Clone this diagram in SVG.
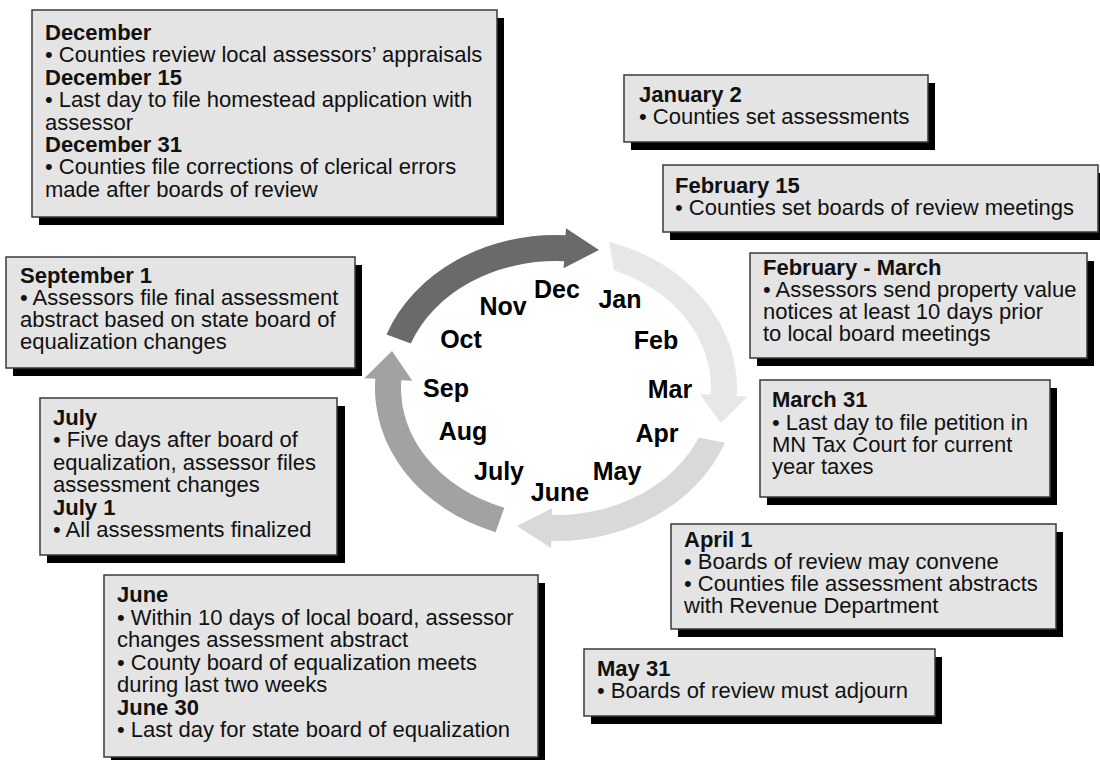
<svg xmlns="http://www.w3.org/2000/svg" width="1100" height="760" viewBox="0 0 1100 760">
<style>
.sh{fill:#000}
.bx{fill:#e4e4e4;stroke:#3a3a3a;stroke-width:1.5}
.t{font-family:"Liberation Sans",Arial,sans-serif;font-size:22px;fill:#111}
.b{font-weight:bold}
.m{font-family:"Liberation Sans",Arial,sans-serif;font-size:25px;font-weight:bold;fill:#000;text-anchor:middle}
</style>
<rect width="1100" height="760" fill="#fff"/>
<g id="cycle">
<path fill="#6a6a6a" d="M386.5,334.4 A181,153 0 0 1 565.5,235.2 L566,228.2 L599,250 L563.5,268.2 L564.1,261.2 A155,127 0 0 0 410.8,343.5 Z"/>
<path fill="#e7e7e7" d="M608.9,241.7 A181,153 0 0 1 736.7,396 L747.7,396.4 L721,423 L699.8,394.3 L710.8,394.6 A155,127 0 0 0 614.1,270.2 Z"/>
<path fill="#d9d9d9" d="M725,442.8 A181,153 0 0 1 551.3,541 L551,548 L517,526 L552.2,508 L551.9,515 A155,127 0 0 0 698.7,437.6 Z"/>
<path fill="#a2a2a2" d="M495.6,532.2 A181,153 0 0 1 375.3,378.7 L364.4,378.2 L392,351 L412.3,380.7 L401.3,380.3 A155,127 0 0 0 504.3,507.7 Z"/>
</g>
<g id="months">
<text class="m" x="557" y="298">Dec</text>
<text class="m" x="503" y="315">Nov</text>
<text class="m" x="620" y="308">Jan</text>
<text class="m" x="461" y="348">Oct</text>
<text class="m" x="656" y="349">Feb</text>
<text class="m" x="446" y="397">Sep</text>
<text class="m" x="670" y="398">Mar</text>
<text class="m" x="463" y="440">Aug</text>
<text class="m" x="657" y="442">Apr</text>
<text class="m" x="499" y="480">July</text>
<text class="m" x="617" y="480">May</text>
<text class="m" x="560" y="501">June</text>
</g>
<g id="box-december">
<rect class="sh" x="39" y="18" width="465" height="207"/>
<rect class="bx" x="32" y="10" width="465" height="207"/>
<text class="t"><tspan class="b" x="45" y="40">December</tspan><tspan x="45" y="62.4">• Counties review local assessors’ appraisals</tspan><tspan class="b" x="45" y="84.8">December 15</tspan><tspan x="45" y="107.2">• Last day to file homestead application with</tspan><tspan x="45" y="129.6">assessor</tspan><tspan class="b" x="45" y="152">December 31</tspan><tspan x="45" y="174.4">• Counties file corrections of clerical errors</tspan><tspan x="45" y="196.8">made after boards of review</tspan></text>
</g>
<g id="box-jan2">
<rect class="sh" x="631" y="83" width="304" height="67"/>
<rect class="bx" x="624" y="75" width="304" height="67"/>
<text class="t"><tspan class="b" x="639" y="102">January 2</tspan><tspan x="639" y="124">• Counties set assessments</tspan></text>
</g>
<g id="box-feb15">
<rect class="sh" x="670" y="173" width="435" height="67"/>
<rect class="bx" x="663" y="165" width="435" height="67"/>
<text class="t"><tspan class="b" x="675" y="193">February 15</tspan><tspan x="675" y="215">• Counties set boards of review meetings</tspan></text>
</g>
<g id="box-febmar">
<rect class="sh" x="757" y="261" width="337" height="105"/>
<rect class="bx" x="750" y="253" width="337" height="105"/>
<text class="t"><tspan class="b" x="763" y="275">February - March</tspan><tspan x="763" y="297">• Assessors send property value</tspan><tspan x="763" y="319">notices at least 10 days prior</tspan><tspan x="763" y="341">to local board meetings</tspan></text>
</g>
<g id="box-mar31">
<rect class="sh" x="767" y="388" width="290" height="117"/>
<rect class="bx" x="760" y="380" width="290" height="117"/>
<text class="t"><tspan class="b" x="772" y="407">March 31</tspan><tspan x="772" y="430">• Last day to file petition in</tspan><tspan x="772" y="452">MN Tax Court for current</tspan><tspan x="772" y="474">year taxes</tspan></text>
</g>
<g id="box-apr1">
<rect class="sh" x="678" y="532" width="385" height="105"/>
<rect class="bx" x="671" y="524" width="385" height="105"/>
<text class="t"><tspan class="b" x="684" y="547">April 1</tspan><tspan x="684" y="569">• Boards of review may convene</tspan><tspan x="684" y="591">• Counties file assessment abstracts</tspan><tspan x="684" y="613">with Revenue Department</tspan></text>
</g>
<g id="box-may31">
<rect class="sh" x="591" y="657" width="351" height="67"/>
<rect class="bx" x="584" y="649" width="351" height="67"/>
<text class="t"><tspan class="b" x="597" y="676">May 31</tspan><tspan x="597" y="698">• Boards of review must adjourn</tspan></text>
</g>
<g id="box-sep1">
<rect class="sh" x="13" y="265" width="349" height="111"/>
<rect class="bx" x="6" y="257" width="349" height="111"/>
<text class="t"><tspan class="b" x="20" y="283">September 1</tspan><tspan x="20" y="305">• Assessors file final assessment</tspan><tspan x="20" y="327">abstract based on state board of</tspan><tspan x="20" y="349">equalization changes</tspan></text>
</g>
<g id="box-july">
<rect class="sh" x="47" y="406" width="298" height="157"/>
<rect class="bx" x="40" y="398" width="297" height="157"/>
<text class="t"><tspan class="b" x="53" y="425">July</tspan><tspan x="53" y="447.4">• Five days after board of</tspan><tspan x="53" y="469.8">equalization, assessor files</tspan><tspan x="53" y="492.2">assessment changes</tspan><tspan class="b" x="53" y="514.6">July 1</tspan><tspan x="53" y="537">• All assessments finalized</tspan></text>
</g>
<g id="box-june">
<rect class="sh" x="111" y="583" width="434" height="182"/>
<rect class="bx" x="104" y="575" width="434" height="182"/>
<text class="t"><tspan class="b" x="117" y="602">June</tspan><tspan x="117" y="624.5">• Within 10 days of local board, assessor</tspan><tspan x="117" y="647">changes assessment abstract</tspan><tspan x="117" y="669.5">• County board of equalization meets</tspan><tspan x="117" y="692">during last two weeks</tspan><tspan class="b" x="117" y="714.5">June 30</tspan><tspan x="117" y="737">• Last day for state board of equalization</tspan></text>
</g>
</svg>
